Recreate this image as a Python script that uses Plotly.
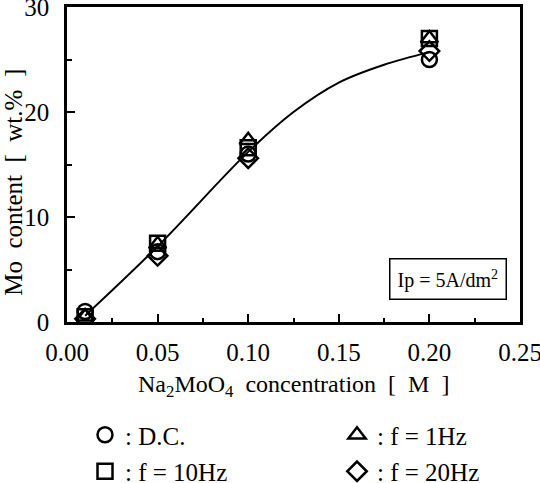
import plotly.graph_objects as go

# ---- data ----
conc = [0.01, 0.05, 0.10, 0.20]
mo_dc = [1.0, 6.7, 16.0, 25.0]
mo_1hz = [0.5, 7.4, 17.3, 27.0]
mo_10hz = [0.5, 7.5, 16.6, 27.0]
mo_20hz = [0.3, 6.3, 15.6, 25.8]

fit_x = [0.01, 0.05, 0.10, 0.125, 0.15, 0.175, 0.20]
fit_y = [0.6, 7.2, 16.2, 20.0, 22.8, 24.5, 25.7]

series_names = [": D.C.", ": f = 10Hz", ": f = 1Hz", ": f = 20Hz"]
series_symbols = ["circle-open", "square-open", "triangle-up-open", "diamond-open"]
series_values = [mo_dc, mo_10hz, mo_1hz, mo_20hz]
series_legend = ["legend", "legend", "legend2", "legend2"]

x_ticks = [0.00, 0.05, 0.10, 0.15, 0.20, 0.25]
y_ticks = [0, 10, 20, 30]

FONT = "Liberation Serif"

fig = go.Figure()

fig.add_trace(go.Scatter(
    x=fit_x, y=fit_y, mode="lines", line=dict(color="black", width=2, shape="spline"),
    showlegend=False, hoverinfo="skip"))

for i, (name, sym, vals, lg) in enumerate(zip(series_names, series_symbols, series_values, series_legend)):
    fig.add_trace(go.Scatter(
        x=conc, y=vals, mode="markers", name=name, legend=lg, legendgroup=f"g{i}",
        marker=dict(symbol=sym, size=15, color="black", line=dict(color="black", width=2.5))))

legend_common = dict(
    orientation="v", yref="container", xref="container", yanchor="top", xanchor="left",
    font=dict(family=FONT, size=25, color="black"),
    bgcolor="rgba(0,0,0,0)", borderwidth=0, itemsizing="trace", tracegroupgap=1)

fig.update_layout(
    width=540, height=483,
    margin=dict(l=67, r=20, t=7, b=161, autoexpand=False),
    paper_bgcolor="white", plot_bgcolor="white",
    font=dict(family=FONT, size=25, color="black"),
    showlegend=True,
    legend=dict(x=85 / 540, y=1 - 412 / 483, **legend_common),
    legend2=dict(x=337 / 540, y=1 - 412 / 483, **legend_common),
)

fig.update_xaxes(
    range=[0, 0.25], tickvals=x_ticks, ticktext=[f"{v:.2f}" for v in x_ticks],
    ticks="inside", ticklen=8, tickwidth=2, tickcolor="black",
    minor=dict(dtick=0.025, tick0=0, ticks="inside", ticklen=4, tickwidth=2, tickcolor="black"),
    showline=True, linewidth=2.5, linecolor="black", mirror=True,
    showgrid=False, zeroline=False, automargin=False, ticklabeloverflow="allow",
    ticklabelstandoff=6, tickfont=dict(family=FONT, size=25))

fig.update_yaxes(
    range=[0, 30], tickvals=y_ticks, ticks="inside", ticklen=8, tickwidth=2, tickcolor="black",
    minor=dict(dtick=5, tick0=0, ticks="inside", ticklen=5, tickwidth=2, tickcolor="black"),
    showline=True, linewidth=2.5, linecolor="black", mirror=True,
    showgrid=False, zeroline=False, automargin=False, ticklabeloverflow="allow",
    ticklabelstandoff=10, tickfont=dict(family=FONT, size=25))

fig.add_annotation(
    xref="paper", yref="paper", x=0.5, y=-0.203, xanchor="center", yanchor="middle",
    text="Na<sub>2</sub>MoO<sub>4</sub>\u00a0 concentration \u00a0[\u00a0 M \u00a0]",
    showarrow=False, font=dict(family=FONT, size=24))

fig.add_annotation(
    xref="paper", yref="paper", x=-0.117, y=0.445, xanchor="center", yanchor="middle",
    textangle=-90, text="Mo\u00a0 content \u00a0[\u00a0 wt.% \u00a0]",
    showarrow=False, font=dict(family=FONT, size=25))

fig.add_annotation(
    xref="paper", yref="paper", x=0.971, y=0.137, xanchor="right", yanchor="middle",
    text="Ip = 5A/dm<sup>2</sup>", showarrow=False, font=dict(family=FONT, size=20),
    bordercolor="black", borderwidth=1.5, borderpad=7, bgcolor="white")

fig.write_html("out.html")
